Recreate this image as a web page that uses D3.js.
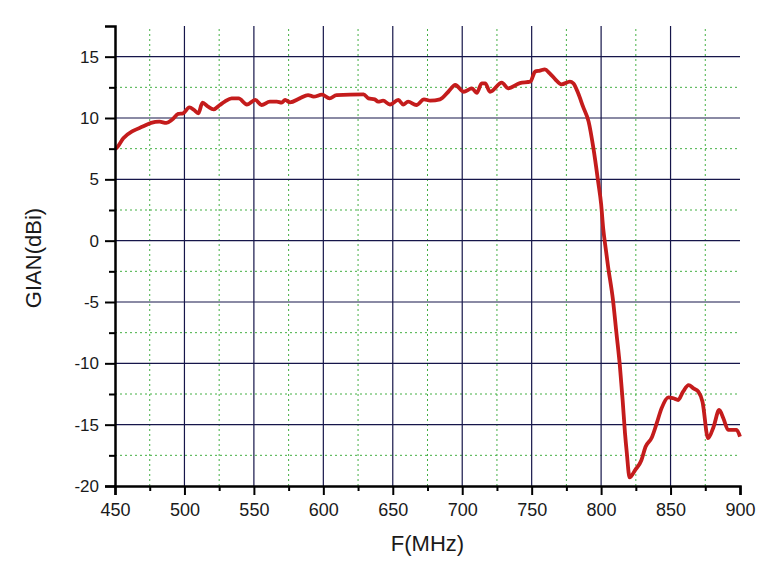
<!DOCTYPE html>
<html>
<head>
<meta charset="utf-8">
<script src="https://cdn.jsdelivr.net/npm/d3@7"></script>
<style>
  body { margin: 0; background: #fff; }
  text { font-family: "Liberation Sans", Arial, sans-serif; }
</style>
</head>
<body>
<div id="chart"></div>
<script>
// gain curve
const freq = [450, 451, 456, 463, 470, 476, 482, 487, 491, 495.5, 499, 503.5, 507, 510, 513, 517, 521,
  525.5, 529, 534, 539, 545, 551, 555.5, 561.5, 566.5, 570, 572.5, 576, 583, 589, 593, 599, 604.5,
  609.5, 629, 632.5, 637, 639.5, 643, 648, 654, 657.5, 661, 667, 672.5, 677, 684, 690, 695, 701,
  707, 710.5, 714, 716.5, 720, 728.5, 733, 741.5, 749, 752.5, 756, 759.5, 763, 767, 771.5, 777.5,
  780, 783.5, 787, 791, 794.5, 798, 800, 801.5, 803.5, 805, 808.5, 811, 813.5, 815.5, 817.2,
  818.5, 820.5, 824.5, 829, 832, 836.5, 840, 843.5, 848.5, 852, 855.5, 859, 863, 866.5, 870,
  873, 877, 881, 885, 888, 891.5, 897.5, 900];
const gain = [7.5, 7.55, 8.35, 8.95, 9.3, 9.6, 9.7, 9.6, 9.85, 10.33, 10.38, 10.87, 10.65, 10.38, 11.25,
  10.92, 10.71, 11.06, 11.33, 11.6, 11.6, 11.1, 11.47, 11.06, 11.33, 11.33, 11.25, 11.47, 11.28,
  11.6, 11.87, 11.74, 11.9, 11.6, 11.87, 11.93, 11.6, 11.52, 11.33, 11.41, 11.1, 11.47, 11.1,
  11.33, 11.06, 11.52, 11.41, 11.52, 12.14, 12.69, 12.14, 12.42, 12.06, 12.83, 12.83, 12.14,
  12.88, 12.42, 12.85, 12.96, 13.78, 13.86, 13.97, 13.64, 13.15, 12.74, 12.96, 12.83, 12.01,
  10.92, 9.7, 7.5, 4.7, 3.0, 1.0, -0.8, -2.1, -4.8, -7.5, -10.2, -13.0, -15.7, -17.3, -19.3,
  -18.7, -17.9, -16.8, -16.05, -14.9, -13.67, -12.77, -12.85, -12.99, -12.31, -11.77, -12.04,
  -12.31, -13.13, -16.1, -15.17, -13.8, -14.48, -15.43, -15.43, -15.98];

const xMajor = [450, 500, 550, 600, 650, 700, 750, 800, 850, 900];
const xMinor = [475, 525, 575, 625, 675, 725, 775, 825, 875];
const yMajor = [-20, -15, -10, -5, 0, 5, 10, 15];
const yMinor = [-17.5, -12.5, -7.5, -2.5, 2.5, 7.5, 12.5];

const W = 774, H = 578;
const MARGIN = {TOP: 26, BOTTOM: 92, LEFT: 115, RIGHT: 34};

const svg = d3.select("#chart").append("svg")
  .attr("width", W).attr("height", H);

const x = d3.scaleLinear().domain([450, 900]).range([MARGIN.LEFT, W - MARGIN.RIGHT]);
const y = d3.scaleLinear().domain([-20, 17.5]).range([H - MARGIN.BOTTOM, MARGIN.TOP]);

const grid = svg.append("g");
// minor grid, green dotted
grid.selectAll(".vmin").data(xMinor).enter().append("line")
  .attr("x1", d => x(d)).attr("x2", d => x(d))
  .attr("y1", y(-20)).attr("y2", y(17.5))
  .attr("stroke", "#44b044").attr("stroke-width", 1).attr("stroke-dasharray", "2,3");
grid.selectAll(".hmin").data(yMinor).enter().append("line")
  .attr("x1", x(450)).attr("x2", x(900))
  .attr("y1", d => y(d)).attr("y2", d => y(d))
  .attr("stroke", "#44b044").attr("stroke-width", 1).attr("stroke-dasharray", "2,3");
// major grid, navy solid
grid.selectAll(".vmaj").data(xMajor.filter(d => d > 450 && d < 900)).enter().append("line")
  .attr("x1", d => x(d)).attr("x2", d => x(d))
  .attr("y1", y(-20)).attr("y2", y(17.5))
  .attr("stroke", "#16164a").attr("stroke-width", 1.2);
grid.selectAll(".hmaj").data(yMajor.filter(d => d > -20)).enter().append("line")
  .attr("x1", x(450)).attr("x2", x(900))
  .attr("y1", d => y(d)).attr("y2", d => y(d))
  .attr("stroke", "#16164a").attr("stroke-width", 1.2);

// curve
const pts = freq.map((f, i) => [f, gain[i]]);
svg.append("path")
  .datum(pts)
  .attr("fill", "none")
  .attr("stroke", "#c41c1c")
  .attr("stroke-width", 3.8)
  .attr("stroke-linejoin", "round")
  .attr("d", d3.line().x(d => x(d[0])).y(d => y(d[1])).curve(d3.curveMonotoneX));

// axes (plain hyphen for negatives, like the original)
const fmt = d => String(d);
const xAxis = svg.append("g").attr("transform", `translate(0,${y(-20)})`);
xAxis.call(d3.axisBottom(x).tickValues(xMajor).tickSize(9).tickPadding(8).tickFormat(fmt));
xAxis.append("g").call(d3.axisBottom(x).tickValues(xMinor).tickSize(5).tickFormat(""));
xAxis.selectAll(".tick text").attr("font-size", 18);

const yAxis = svg.append("g").attr("transform", `translate(${x(450)},0)`);
yAxis.call(d3.axisLeft(y).tickValues(yMajor).tickSize(10).tickPadding(6).tickFormat(fmt));
yAxis.append("g").call(d3.axisLeft(y).tickValues(yMinor).tickSize(6).tickFormat(""));
yAxis.selectAll(".tick text").attr("font-size", 17);

svg.selectAll(".domain").attr("stroke", "#000").attr("stroke-width", 2.5);
svg.selectAll(".tick line").attr("stroke", "#000").attr("stroke-width", 2);
svg.selectAll(".tick text").attr("fill", "#1a1a1a")
  .attr("font-family", "'Liberation Sans', Arial, sans-serif");
yAxis.selectAll(".domain").filter((d, i, n) => n[i].parentNode !== yAxis.node()).remove();
xAxis.selectAll(".domain").filter((d, i, n) => n[i].parentNode !== xAxis.node()).remove();

// axis titles
svg.append("text")
  .attr("x", (x(450) + x(900)) / 2).attr("y", 551)
  .attr("text-anchor", "middle").attr("font-size", 22).attr("fill", "#1a1a1a")
  .text("F(MHz)");
svg.append("text")
  .attr("transform", `translate(41,258) rotate(-90)`)
  .attr("text-anchor", "middle").attr("font-size", 22).attr("fill", "#1a1a1a")
  .text("GIAN(dBi)");
</script>
</body>
</html>
